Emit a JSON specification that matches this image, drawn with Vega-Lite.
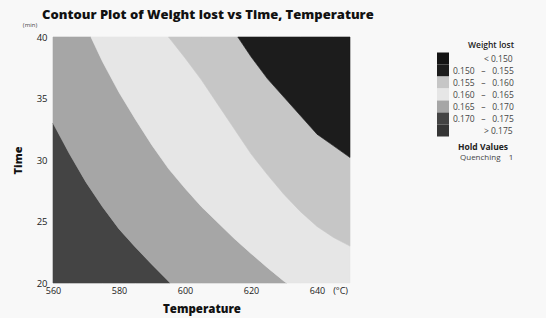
{
  "$schema": "https://vega.github.io/schema/vega-lite/v6.json",
  "autosize": {"type": "none"},
  "width": 297,
  "height": 246,
  "padding": {"left": 53, "top": 37, "right": 196, "bottom": 35},
  "background": "#f8f8f8",
  "title": {
    "text": "Contour Plot of Weight lost vs Time, Temperature",
    "anchor": "start",
    "frame": "group",
    "dx": -11,
    "offset": 0,
    "font": "Open Sans",
    "fontSize": 13,
    "fontWeight": 800,
    "color": "#111111"
  },
  "config": {
    "view": {"stroke": null},
    "font": "Open Sans"
  },
  "layer": [
    {
      "data": {
        "values": [
          {"band": "0.170 – 0.175", "temp": 560, "lo": 20, "hi": 33.0},
          {"band": "0.170 – 0.175", "temp": 565, "lo": 20, "hi": 30.5},
          {"band": "0.170 – 0.175", "temp": 570, "lo": 20, "hi": 28.2},
          {"band": "0.170 – 0.175", "temp": 575, "lo": 20, "hi": 26.2},
          {"band": "0.170 – 0.175", "temp": 580, "lo": 20, "hi": 24.4},
          {"band": "0.170 – 0.175", "temp": 585, "lo": 20, "hi": 22.9},
          {"band": "0.170 – 0.175", "temp": 590, "lo": 20, "hi": 21.5},
          {"band": "0.170 – 0.175", "temp": 595, "lo": 20, "hi": 20.15},
          {"band": "0.170 – 0.175", "temp": 595.5, "lo": 20, "hi": 20},

          {"band": "0.165 – 0.170", "temp": 560, "lo": 33.0, "hi": 40},
          {"band": "0.165 – 0.170", "temp": 565, "lo": 30.5, "hi": 40},
          {"band": "0.165 – 0.170", "temp": 570, "lo": 28.2, "hi": 40},
          {"band": "0.165 – 0.170", "temp": 571.5, "lo": 27.6, "hi": 40},
          {"band": "0.165 – 0.170", "temp": 575, "lo": 26.2, "hi": 38.0},
          {"band": "0.165 – 0.170", "temp": 580, "lo": 24.4, "hi": 35.5},
          {"band": "0.165 – 0.170", "temp": 585, "lo": 22.9, "hi": 33.3},
          {"band": "0.165 – 0.170", "temp": 590, "lo": 21.5, "hi": 31.2},
          {"band": "0.165 – 0.170", "temp": 595, "lo": 20.15, "hi": 29.3},
          {"band": "0.165 – 0.170", "temp": 595.5, "lo": 20, "hi": 29.15},
          {"band": "0.165 – 0.170", "temp": 600, "lo": 20, "hi": 27.7},
          {"band": "0.165 – 0.170", "temp": 605, "lo": 20, "hi": 26.2},
          {"band": "0.165 – 0.170", "temp": 610, "lo": 20, "hi": 24.9},
          {"band": "0.165 – 0.170", "temp": 615, "lo": 20, "hi": 23.6},
          {"band": "0.165 – 0.170", "temp": 620, "lo": 20, "hi": 22.4},
          {"band": "0.165 – 0.170", "temp": 625, "lo": 20, "hi": 21.25},
          {"band": "0.165 – 0.170", "temp": 630, "lo": 20, "hi": 20.15},
          {"band": "0.165 – 0.170", "temp": 630.8, "lo": 20, "hi": 20},

          {"band": "0.160 – 0.165", "temp": 571.5, "lo": 40, "hi": 40},
          {"band": "0.160 – 0.165", "temp": 575, "lo": 38.0, "hi": 40},
          {"band": "0.160 – 0.165", "temp": 580, "lo": 35.5, "hi": 40},
          {"band": "0.160 – 0.165", "temp": 585, "lo": 33.3, "hi": 40},
          {"band": "0.160 – 0.165", "temp": 590, "lo": 31.2, "hi": 40},
          {"band": "0.160 – 0.165", "temp": 595, "lo": 29.3, "hi": 40},
          {"band": "0.160 – 0.165", "temp": 600, "lo": 27.7, "hi": 38.3},
          {"band": "0.160 – 0.165", "temp": 605, "lo": 26.2, "hi": 36.5},
          {"band": "0.160 – 0.165", "temp": 610, "lo": 24.9, "hi": 34.5},
          {"band": "0.160 – 0.165", "temp": 615, "lo": 23.6, "hi": 32.5},
          {"band": "0.160 – 0.165", "temp": 620, "lo": 22.4, "hi": 30.5},
          {"band": "0.160 – 0.165", "temp": 625, "lo": 21.25, "hi": 28.8},
          {"band": "0.160 – 0.165", "temp": 630, "lo": 20.15, "hi": 27.2},
          {"band": "0.160 – 0.165", "temp": 630.8, "lo": 20, "hi": 27.0},
          {"band": "0.160 – 0.165", "temp": 635, "lo": 20, "hi": 25.8},
          {"band": "0.160 – 0.165", "temp": 640, "lo": 20, "hi": 24.6},
          {"band": "0.160 – 0.165", "temp": 645, "lo": 20, "hi": 23.7},
          {"band": "0.160 – 0.165", "temp": 650, "lo": 20, "hi": 23.0},

          {"band": "0.155 – 0.160", "temp": 595, "lo": 40, "hi": 40},
          {"band": "0.155 – 0.160", "temp": 600, "lo": 38.3, "hi": 40},
          {"band": "0.155 – 0.160", "temp": 605, "lo": 36.5, "hi": 40},
          {"band": "0.155 – 0.160", "temp": 610, "lo": 34.5, "hi": 40},
          {"band": "0.155 – 0.160", "temp": 615, "lo": 32.5, "hi": 40},
          {"band": "0.155 – 0.160", "temp": 616, "lo": 32.1, "hi": 40},
          {"band": "0.155 – 0.160", "temp": 620, "lo": 30.5, "hi": 38.4},
          {"band": "0.155 – 0.160", "temp": 625, "lo": 28.8, "hi": 36.6},
          {"band": "0.155 – 0.160", "temp": 630, "lo": 27.2, "hi": 35.1},
          {"band": "0.155 – 0.160", "temp": 635, "lo": 25.8, "hi": 33.6},
          {"band": "0.155 – 0.160", "temp": 640, "lo": 24.6, "hi": 32.1},
          {"band": "0.155 – 0.160", "temp": 645, "lo": 23.7, "hi": 31.15},
          {"band": "0.155 – 0.160", "temp": 650, "lo": 23.0, "hi": 30.2},

          {"band": "0.150 – 0.155", "temp": 616, "lo": 40, "hi": 40},
          {"band": "0.150 – 0.155", "temp": 620, "lo": 38.4, "hi": 40},
          {"band": "0.150 – 0.155", "temp": 625, "lo": 36.6, "hi": 40},
          {"band": "0.150 – 0.155", "temp": 630, "lo": 35.1, "hi": 40},
          {"band": "0.150 – 0.155", "temp": 635, "lo": 33.6, "hi": 40},
          {"band": "0.150 – 0.155", "temp": 640, "lo": 32.1, "hi": 40},
          {"band": "0.150 – 0.155", "temp": 645, "lo": 31.15, "hi": 40},
          {"band": "0.150 – 0.155", "temp": 650, "lo": 30.2, "hi": 40}
        ]
      },
      "mark": {"type": "area", "interpolate": "linear", "strokeWidth": 0.6, "orient": "vertical"},
      "encoding": {
        "x": {
          "field": "temp",
          "type": "quantitative",
          "scale": {"domain": [560, 650], "nice": false, "zero": false},
          "axis": {
            "title": "Temperature",
            "values": [560, 580, 600, 620, 640, 647],
            "labelExpr": "datum.value == 647 ? '(°C)' : datum.label",
            "ticks": false,
            "domain": false,
            "grid": false,
            "labelPadding": 3,
            "labelFontSize": 9,
            "labelColor": "#222222",
            "labelFlush": false,
            "titleFontSize": 11.5,
            "titleFontWeight": 800,
            "titleColor": "#111111",
            "titlePadding": 8
          }
        },
        "y": {
          "field": "lo",
          "type": "quantitative",
          "stack": null,
          "scale": {"domain": [20, 40], "nice": false, "zero": false},
          "axis": {
            "title": "Time",
            "values": [20, 25, 30, 35, 40],
            "ticks": false,
            "domain": false,
            "grid": false,
            "labelPadding": 6,
            "labelFontSize": 9.5,
            "labelColor": "#222222",
            "labelFlush": false,
            "titleFontSize": 11,
            "titleFontWeight": 800,
            "titleColor": "#111111",
            "titlePadding": 13
          }
        },
        "y2": {"field": "hi"},
        "color": {
          "field": "band",
          "type": "nominal",
          "scale": {
            "domain": ["< 0.150", "0.150 – 0.155", "0.155 – 0.160", "0.160 – 0.165", "0.165 – 0.170", "0.170 – 0.175", "> 0.175"],
            "range": ["#141414", "#1c1c1c", "#c6c6c6", "#e6e6e6", "#a6a6a6", "#444444", "#363636"]
          },
          "legend": {
            "orient": "none",
            "legendX": 384,
            "legendY": 4,
            "title": "Weight lost",
            "titleFontSize": 8.5,
            "titleFontWeight": 600,
            "titleColor": "#222222",
            "titleAnchor": "end",
            "titlePadding": 3,
            "symbolType": "square",
            "symbolSize": 144,
            "symbolStrokeWidth": 0,
            "symbolOpacity": 1,
            "rowPadding": 0,
            "labelFontSize": 8.5,
            "labelColor": "#444444",
            "labelOffset": 4,
            "labelLimit": 200,
            "labelExpr": "datum.label == '< 0.150' ? '\u200b\u00a0\u00a0\u00a0\u00a0\u00a0\u00a0\u00a0\u00a0\u00a0\u00a0\u00a0\u00a0\u00a0\u00a0< 0.150' : datum.label == '> 0.175' ? '\u200b\u00a0\u00a0\u00a0\u00a0\u00a0\u00a0\u00a0\u00a0\u00a0\u00a0\u00a0\u00a0\u00a0\u00a0> 0.175' : replace(datum.label, ' – ', '\u00a0\u00a0\u00a0–\u00a0\u00a0\u00a0')"
          }
        },
        "stroke": {
          "field": "band",
          "type": "nominal",
          "scale": {
            "domain": ["< 0.150", "0.150 – 0.155", "0.155 – 0.160", "0.160 – 0.165", "0.165 – 0.170", "0.170 – 0.175", "> 0.175"],
            "range": ["#141414", "#1c1c1c", "#c6c6c6", "#e6e6e6", "#a6a6a6", "#444444", "#363636"]
          },
          "legend": null
        }
      }
    },
    {
      "data": {"values": [{"unit": "(min)"}]},
      "mark": {"type": "text", "fontSize": 6, "color": "#444444", "align": "center", "dx": -23, "dy": -12},
      "encoding": {
        "x": {"datum": 560},
        "y": {"datum": 40},
        "text": {"field": "unit"}
      }
    },
    {
      "data": {"values": [{"hold": "Quenching\u00a0\u00a0\u00a0\u00a01"}]},
      "mark": {"type": "point", "opacity": 0},
      "encoding": {
        "x": {"datum": 600},
        "y": {"datum": 30},
        "shape": {
          "field": "hold",
          "type": "nominal",
          "legend": {
            "orient": "none",
            "legendX": 399,
            "legendY": 106,
            "title": "Hold Values",
            "titleFontSize": 8.5,
            "titleFontWeight": 700,
            "titleColor": "#222222",
            "titleAnchor": "middle",
            "titlePadding": 2,
            "symbolSize": 0,
            "symbolOpacity": 0,
            "symbolStrokeWidth": 0,
            "labelOffset": 0,
            "labelFontSize": 8,
            "labelColor": "#444444"
          }
        }
      }
    }
  ]
}
